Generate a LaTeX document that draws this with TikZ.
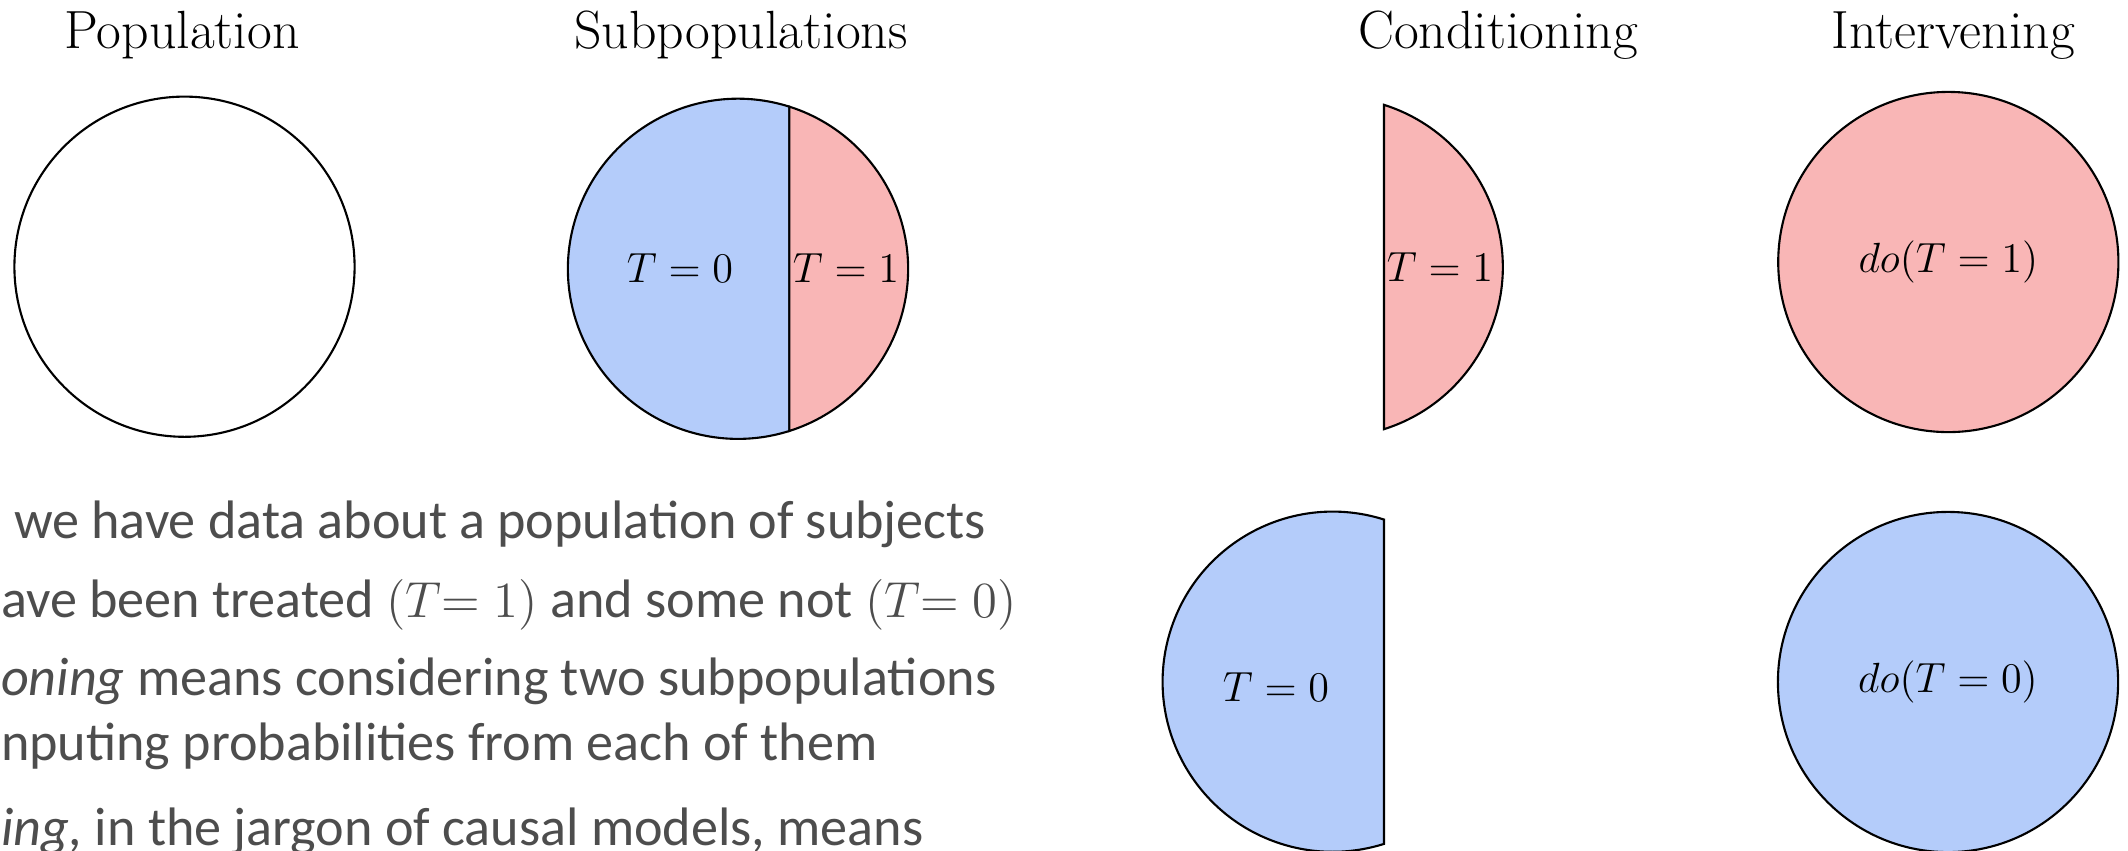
\documentclass[tikz,border=0pt]{standalone}
\usepackage{fontspec}
\newfontfamily\slidefont{Carlito}
\usetikzlibrary{positioning}
\definecolor{tpink}{RGB}{249,182,182}
\definecolor{tblue}{RGB}{180,204,250}
\definecolor{slidegray}{RGB}{77,77,77}

\begin{document}
\begin{tikzpicture}[x=0.01cm,y=0.01cm,line width=0.6pt,
  title/.style={anchor=base,font=\fontsize{15.3}{18}\selectfont},
  popc/.style={draw,circle,minimum size=3.4cm,inner sep=0pt,font=\fontsize{12}{14}\selectfont},
  lab/.style={font=\fontsize{12}{14}\selectfont},
  bullet/.style={anchor=base west,inner sep=0pt,text=slidegray,font=\slidefont\fontsize{15.4}{18.5}\selectfont}]
\useasboundingbox (0,0) rectangle (2128,850);
\clip (0,0) rectangle (2128,850);

% titles
\node[title] (tpop) at (182,802) {Population};
\node[title] (tsub) at (741,802) {Subpopulations};
\node[title] (tcond) at (1498,802) {Conditioning};
\node[title] (tint) at (1953,802) {Intervening};

% population
\node[popc] (pop) at (184.5,583.3) {};

% subpopulations
\coordinate (subc) at (738,581.2);
\filldraw[fill=tblue] (subc) ++(72.44:1.7cm) arc[start angle=72.44,end angle=287.56,radius=1.7cm] -- cycle;
\filldraw[fill=tpink] (subc) ++(-72.44:1.7cm) arc[start angle=-72.44,end angle=72.44,radius=1.7cm] -- cycle;
\node[lab] (sub0) at (680,582) {$T=0$};
\node[lab] (sub1) at (846,582) {$T=1$};

% conditioning
\coordinate (condc1) at (1332.7,583);
\filldraw[fill=tpink] (condc1) ++(-72.44:1.7cm) arc[start angle=-72.44,end angle=72.44,radius=1.7cm] -- cycle;
\node[lab] (cond1) at (1440,583) {$T=1$};
\coordinate (condc0) at (1332.7,168.3);
\filldraw[fill=tblue] (condc0) ++(72.44:1.7cm) arc[start angle=72.44,end angle=287.56,radius=1.7cm] -- cycle;
\node[lab] (cond0) at (1276,163.3) {$T=0$};

% intervening
\node[popc,fill=tpink] (do1) at (1948.3,588) {$do(T=1)$};
\node[popc,fill=tblue] (do0) at (1948,168) {$do(T=0)$};

% slide text
\node[bullet] (b1) at (13,312) {we have data about a population of subjects};
\node[bullet] (b2) at (0,233) {ave been treated $(T{=}\;1)$ and some not $(T{=}\;0)$};
\node[bullet] (b3) at (0,155) {\textit{oning} means considering two subpopulations};
\node[bullet] (b4) at (0,90) {nputing probabilities from each of them};
\node[bullet] (b5) at (0,5) {\textit{ing,} in the jargon of causal models, means};
\end{tikzpicture}
\end{document}
